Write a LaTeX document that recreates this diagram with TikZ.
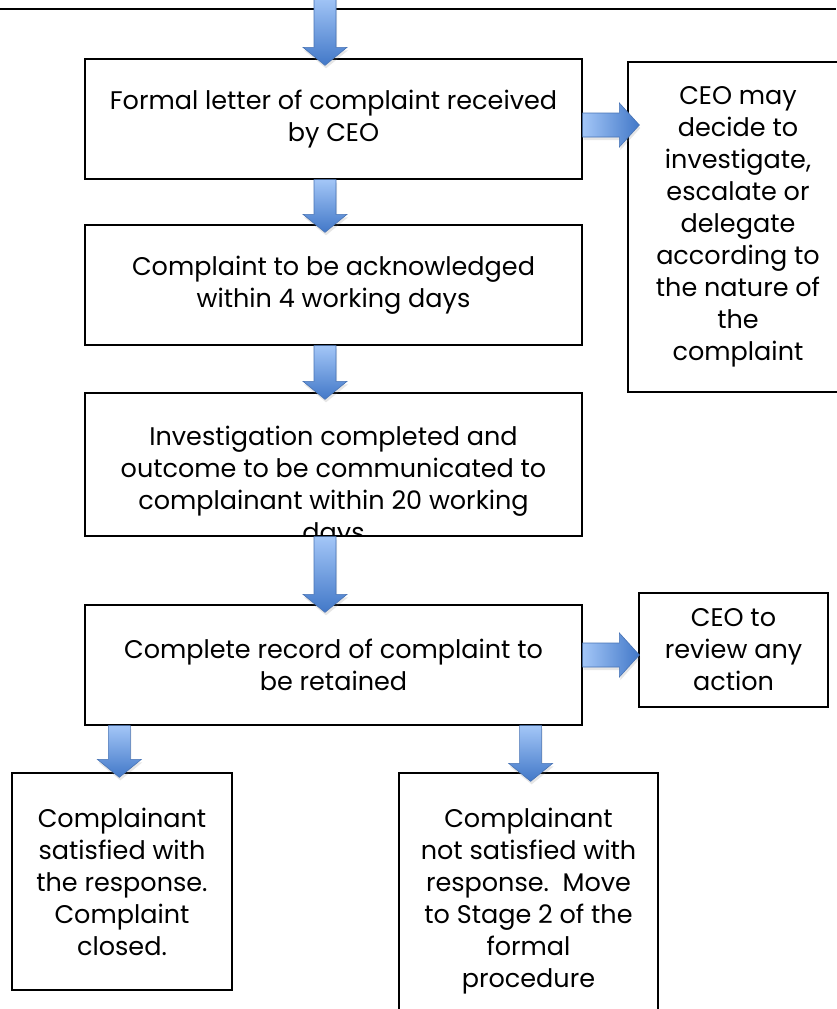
\documentclass[tikz,border=0pt]{standalone}
\usepackage{fontspec}
\setmainfont{Poppins}
\usetikzlibrary{calc,shadows}

\definecolor{arrowlight}{RGB}{163,198,247}
\definecolor{arrowdark}{RGB}{66,120,200}
\definecolor{arrowline}{RGB}{72,115,180}

% fat blue arrows, drawn from a start point to a tip
\newcommand{\downblock}[2]{%
  \path[arrowblock,top color=arrowlight,bottom color=arrowdark] let \p1=(#1), \p2=(#2) in
    (\x1-11,\y1) -- (\x1+11,\y1) -- (\x1+11,\y2+18) -- (\x1+22,\y2+18)
    -- (\x1,\y2) -- (\x1-22,\y2+18) -- (\x1-11,\y2+18) -- cycle;}
\newcommand{\rightblock}[2]{%
  \path[arrowblock,left color=arrowlight,right color=arrowdark] let \p1=(#1), \p2=(#2) in
    (\x1,\y1+12) -- (\x2-20,\y1+12) -- (\x2-20,\y1+22) -- (\x2,\y1)
    -- (\x2-20,\y1-22) -- (\x2-20,\y1-12) -- (\x1,\y1-12) -- cycle;}

\begin{document}
\begin{tikzpicture}[x=1pt,y=-1pt,
  every node/.style={font=\fontsize{25.5}{32}\selectfont},
  stagebox/.style={draw,line width=1.3pt,align=center,inner sep=0pt},
  arrowblock/.style={draw=arrowline,line width=0.6pt,
    drop shadow={shadow xshift=1pt,shadow yshift=-3pt,opacity=0.2}}]
  \useasboundingbox (0,0) rectangle (836,1009);
  \draw[line width=1.3pt] (0,9) -- (836,9);

  \node[stagebox,minimum width=497,minimum height=120] (letter) at (333.5,119)
    {Formal letter of complaint received\\by CEO};
  \node[stagebox,minimum width=497,minimum height=120] (ack) at (333.5,285)
    {Complaint to be acknowledged\\within 4 working days};
  \node[stagebox,minimum width=497,minimum height=143] (invest) at (333.5,464.5) {};
  \begin{scope}
    \clip (invest.north west) rectangle (invest.south east);
    \node[align=center,inner sep=0pt,anchor=north] (investtxt) at (333.5,426)
      {Investigation completed and\\outcome to be communicated to\\complainant within 20 working\\days};
  \end{scope}
  \node[stagebox,minimum width=497,minimum height=120] (record) at (333.5,665)
    {Complete record of complaint to\\be retained};
  \node[stagebox,minimum width=220,minimum height=330] (ceo) at (738,227)
    {CEO may\\decide to\\investigate,\\escalate or\\delegate\\according to\\the nature of\\the\\complaint};
  \node[stagebox,minimum width=189,minimum height=114] (review) at (733.5,650)
    {CEO to\\review any\\action};
  \node[stagebox,minimum width=220,minimum height=217] (satisfied) at (122,881.5)
    {Complainant\\satisfied with\\the response.\\Complaint\\closed.};
  \node[stagebox,minimum width=259,minimum height=257] (notsat) at (528.5,901.5)
    {Complainant\\not satisfied with\\response.\ \ Move\\to Stage 2 of the\\formal\\procedure};

  \coordinate (entry) at (325,-3);
  \downblock{entry}{[shift={(-8.5pt,-7pt)}]letter.north}
  \downblock{[xshift=-8.5pt]letter.south}{[shift={(-8.5pt,-8pt)}]ack.north}
  \downblock{[xshift=-8.5pt]ack.south}{[shift={(-8.5pt,-7pt)}]invest.north}
  \downblock{[xshift=-8.5pt]invest.south}{[shift={(-8.5pt,-8pt)}]record.north}
  \downblock{[xshift=35pt]record.south west}{[yshift=-5pt]satisfied.north}
  \downblock{[xshift=-52pt]record.south east}{[yshift=-9pt]notsat.north}
  \rightblock{[yshift=-6pt]letter.east}{[xshift=12pt]ceo.west}
  \rightblock{[yshift=10pt]record.east}{[xshift=1pt]review.west}
\end{tikzpicture}
\end{document}
